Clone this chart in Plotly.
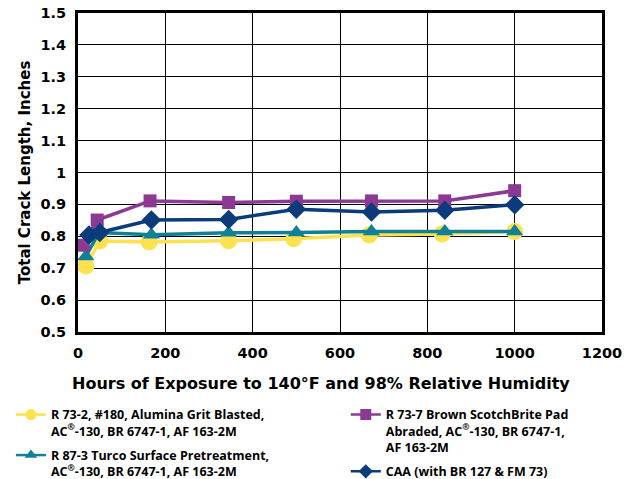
import plotly.graph_objects as go

hours_yellow = [18, 50, 163, 345, 494, 667, 834, 1000]
crack_yellow = [0.707, 0.785, 0.782, 0.786, 0.792, 0.804, 0.807, 0.815]

hours_teal = [18, 48, 168, 345, 500, 672, 840, 1000]
crack_teal = [0.737, 0.812, 0.805, 0.811, 0.812, 0.815, 0.815, 0.815]

hours_purple = [12, 44, 165, 345, 500, 672, 840, 1000]
crack_purple = [0.772, 0.851, 0.911, 0.906, 0.91, 0.911, 0.911, 0.943]

hours_navy = [25, 50, 168, 345, 500, 672, 840, 1000]
crack_navy = [0.804, 0.812, 0.851, 0.853, 0.885, 0.876, 0.882, 0.899]

name_yellow = "R 73-2, #180, Alumina Grit Blasted,<br>AC<sup>®</sup>-130, BR 6747-1, AF 163-2M"
name_teal = "R 87-3 Turco Surface Pretreatment,<br>AC<sup>®</sup>-130, BR 6747-1, AF 163-2M"
name_purple = "R 73-7 Brown ScotchBrite Pad<br>Abraded, AC<sup>®</sup>-130, BR 6747-1,<br>AF 163-2M"
name_navy = "CAA (with BR 127 & FM 73)"

x_title = "Hours of Exposure to 140°F and 98% Relative Humidity"
y_title = "Total Crack Length, Inches"

x_ticks = [0, 200, 400, 600, 800, 1000, 1200]
y_ticks = [0.5, 0.6, 0.7, 0.8, 0.9, 1.0, 1.1, 1.2, 1.3, 1.4, 1.5]
y_labels = ["0.5", "0.6", "0.7", "0.8", "0.9", "1", "1.1", "1.2", "1.3", "1.4", "1.5"]

YELLOW = "#FCE24F"
TEAL = "#0F8098"
PURPLE = "#8C3993"
NAVY = "#0C3B7C"

series = [
    (hours_yellow, crack_yellow, name_yellow, YELLOW, "circle", 17, "legend"),
    (hours_teal, crack_teal, name_teal, TEAL, "triangle-up", 15, "legend"),
    (hours_purple, crack_purple, name_purple, PURPLE, "square", 13, "legend2"),
    (hours_navy, crack_navy, name_navy, NAVY, "diamond", 15, "legend2"),
]

fig = go.Figure()
for i, (xs, ys, nm, col, sym, sz, lg) in enumerate(series):
    fig.add_trace(go.Scatter(x=xs, y=ys, name=nm, mode="lines+markers",
                             line=dict(color=col, width=3.5),
                             marker=dict(symbol=sym, size=sz, color=col),
                             showlegend=False))
for i, (xs, ys, nm, col, sym, sz, lg) in enumerate(series):
    fig.add_trace(go.Scatter(x=[None], y=[None], name=nm, mode="lines+markers",
                             line=dict(color=col, width=2.5),
                             marker=dict(symbol=sym, size=11, color=col),
                             legend=lg, legendgroup="g%d" % i, showlegend=True))

AX = "DejaVu Sans"
LG = "Open Sans"
legfont = dict(family=LG, size=12.5, color="black", weight="bold")
fig.update_layout(
    width=638, height=479,
    margin=dict(l=78, r=36, t=13, b=147, autoexpand=False),
    paper_bgcolor="white", plot_bgcolor="white",
    font=dict(family=AX, size=13, color="black"),
    xaxis=dict(range=[0, 1200], tickvals=x_ticks, ticktext=[str(v) for v in x_ticks],
               showgrid=True, gridcolor="black", gridwidth=1,
               showline=True, linecolor="black", linewidth=3, mirror=True,
               ticks="", zeroline=False, automargin=False, ticklabelstandoff=6,
               ticklabeloverflow="allow",
               tickfont=dict(family=AX, size=14.5, color="black", weight="bold")),
    yaxis=dict(range=[0.5, 1.5], tickvals=y_ticks, ticktext=y_labels,
               showgrid=True, gridcolor="black", gridwidth=1,
               showline=True, linecolor="black", linewidth=3, mirror=True,
               ticks="", zeroline=False, automargin=False, ticklabelstandoff=6,
               ticklabeloverflow="allow",
               tickfont=dict(family=AX, size=14.5, color="black", weight="bold"),
               title=dict(text=y_title,
                          font=dict(family=AX, size=15, color="black", weight="bold"), standoff=7)),
    legend=dict(x=-0.128, y=-0.213, xanchor="left", yanchor="top", orientation="v",
                font=legfont, valign="top",
                bgcolor="rgba(0,0,0,0)", tracegroupgap=5, itemwidth=30),
    legend2=dict(x=0.511, y=-0.213, xanchor="left", yanchor="top", orientation="v",
                 font=legfont, valign="top",
                 bgcolor="rgba(0,0,0,0)", tracegroupgap=5, itemwidth=30),
    showlegend=True,
    annotations=[dict(text=x_title, xref="paper", yref="paper", x=0.5, y=0,
                      xanchor="center", yanchor="middle", xshift=-19, yshift=-51,
                      showarrow=False,
                      font=dict(family=AX, size=16, color="black", weight="bold"))],
)

fig.write_html("out.html", config={"displayModeBar": False},
               post_script="document.body.style.margin='0';document.body.style.padding='0';")
